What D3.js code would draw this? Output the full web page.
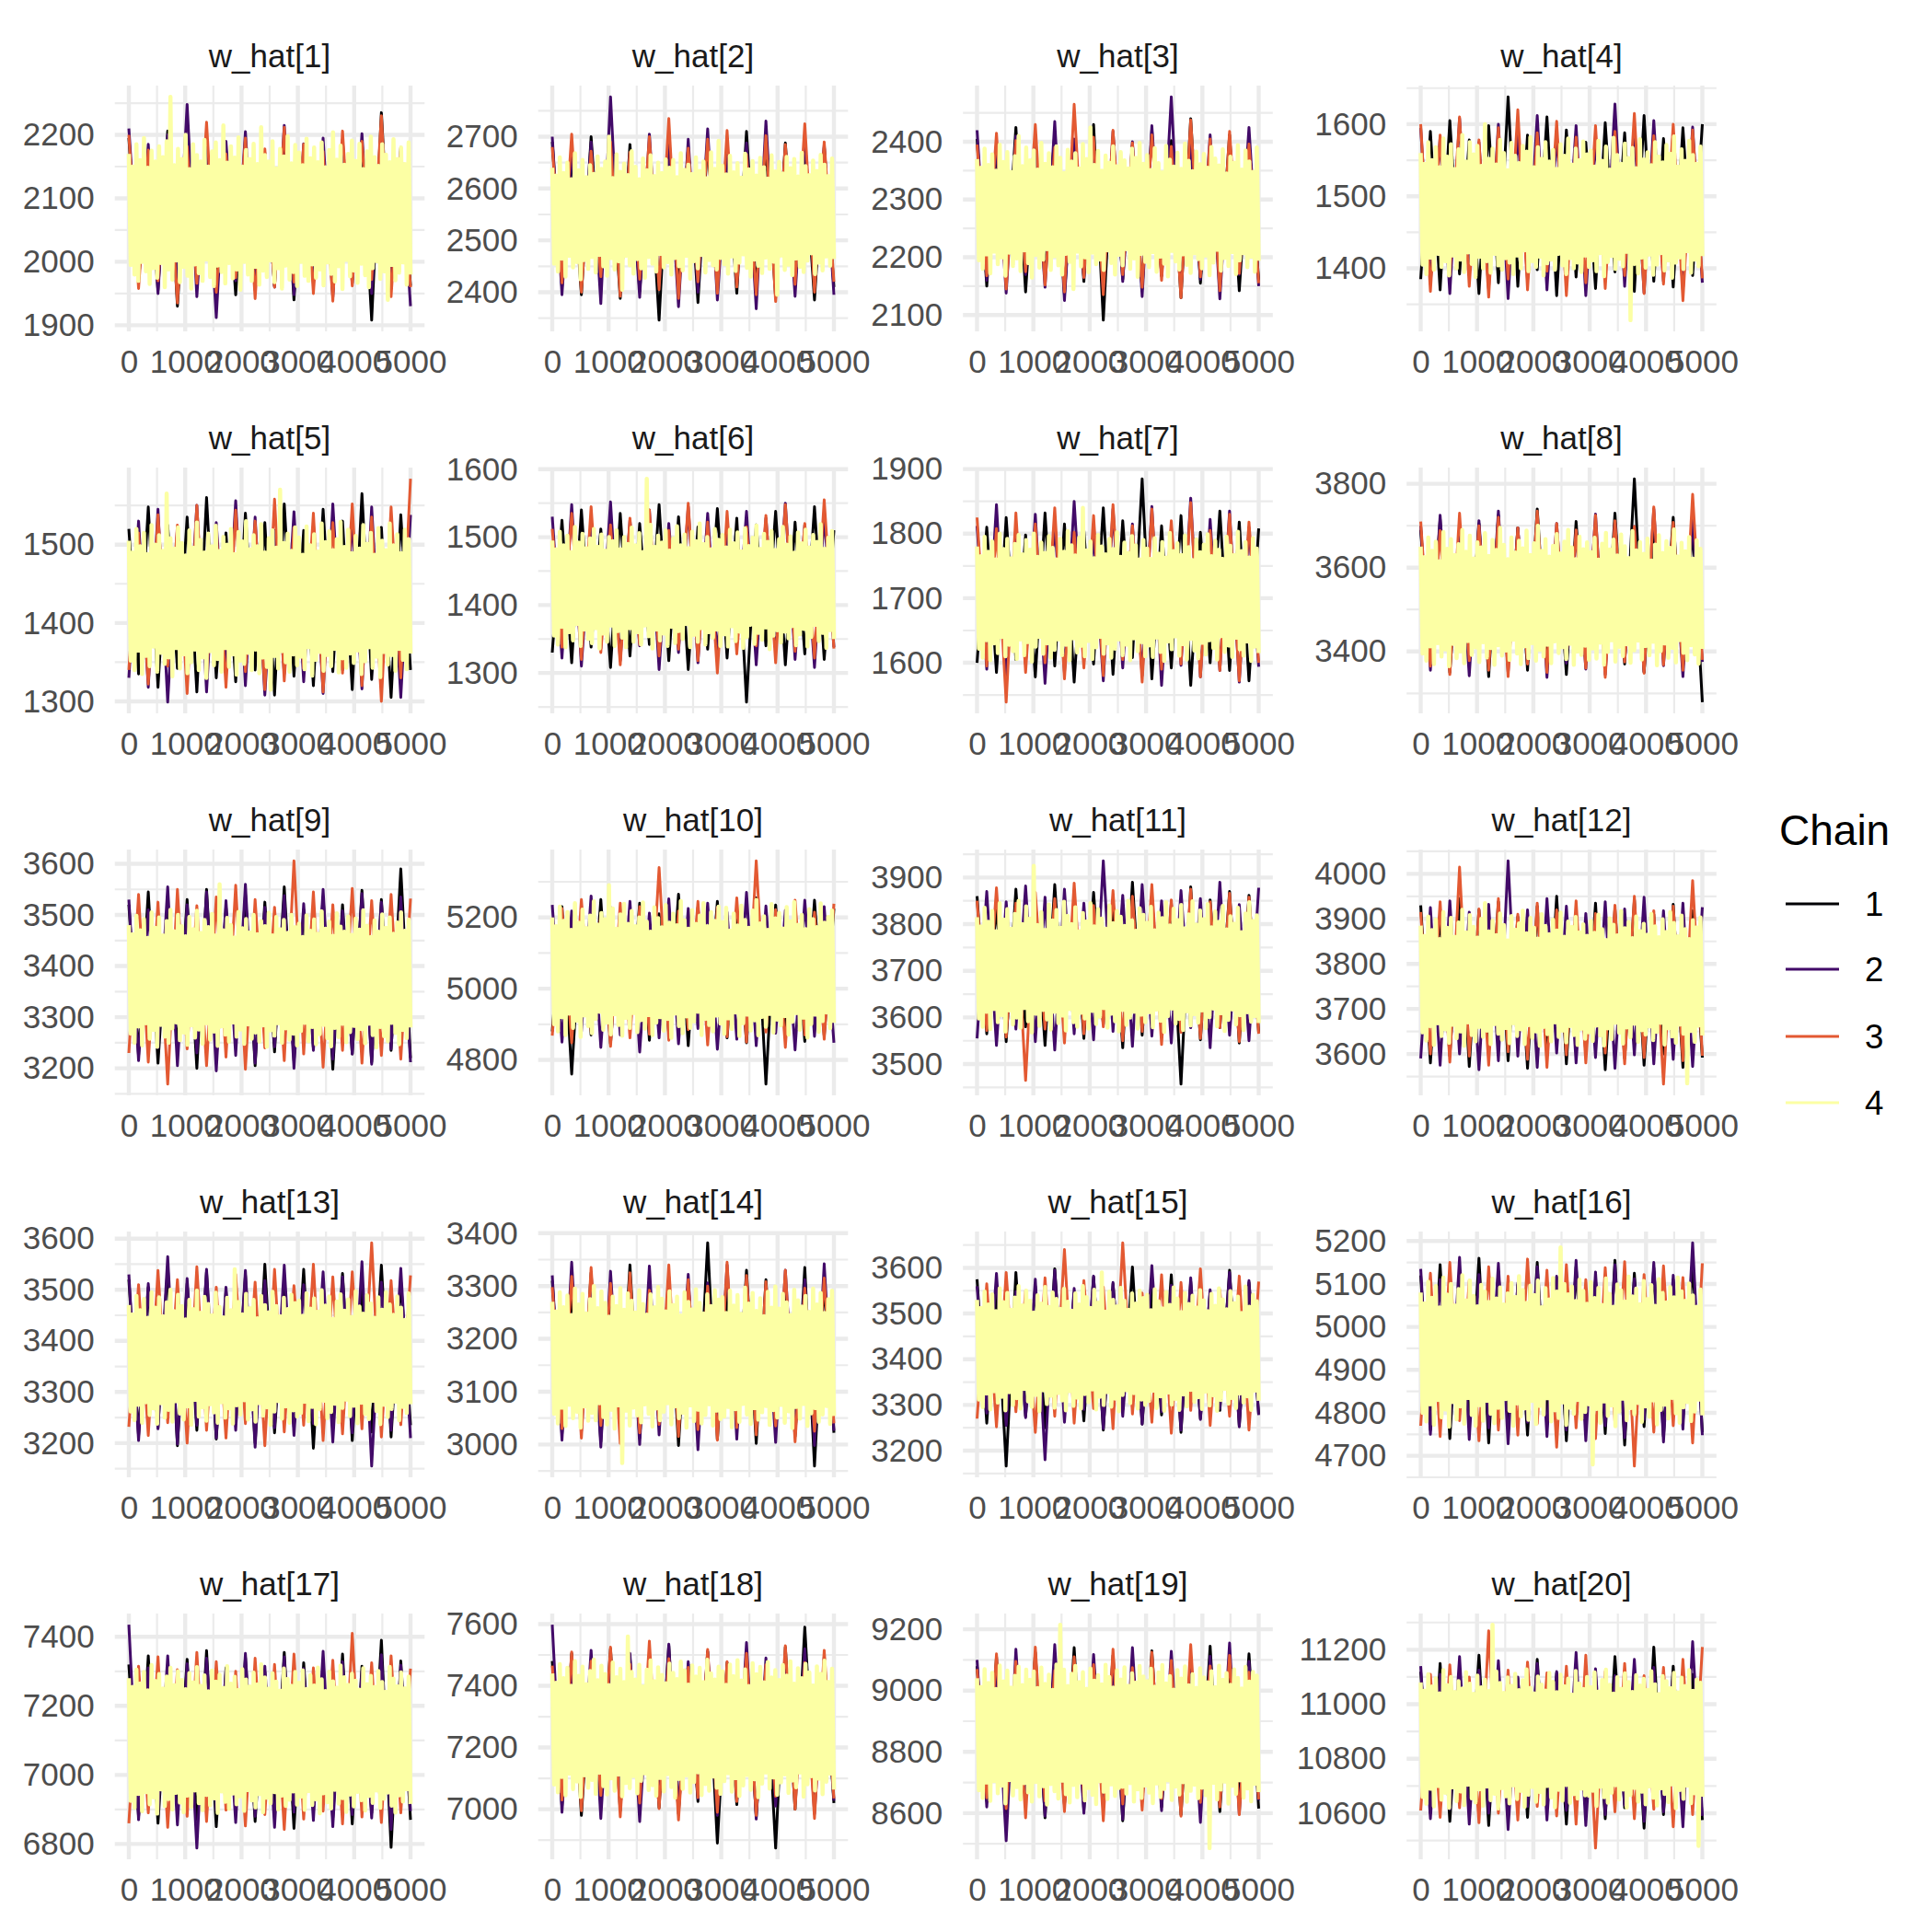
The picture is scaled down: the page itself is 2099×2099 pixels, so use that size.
<!DOCTYPE html>
<html>
<head>
<meta charset="utf-8">
<script src="https://cdn.jsdelivr.net/npm/d3@7"></script>
<style>
html,body{margin:0;padding:0;background:#fff;}
svg{display:block;font-family:"Liberation Sans",Arial,Helvetica,sans-serif;}
</style>
</head>
<body>
<svg id="chart" width="2099" height="2099"></svg>
<script>
// ---------------- data ----------------
const panelTitles = d3.range(1, 21).map(i => `w_hat[${i}]`);
const chainLabels = ["1", "2", "3", "4"];
const xTicks = [0, 1000, 2000, 3000, 4000, 5000];
const xMinor = [500, 1500, 2500, 3500, 4500];
const nIter = 5000;

const yTicks = [
  [1900,2000,2100,2200],[2400,2500,2600,2700],[2100,2200,2300,2400],[1400,1500,1600],
  [1300,1400,1500],[1300,1400,1500,1600],[1600,1700,1800,1900],[3400,3600,3800],
  [3200,3300,3400,3500,3600],[4800,5000,5200],[3500,3600,3700,3800,3900],[3600,3700,3800,3900,4000],
  [3200,3300,3400,3500,3600],[3000,3100,3200,3300,3400],[3200,3300,3400,3500,3600],[4700,4800,4900,5000,5100,5200],
  [6800,7000,7200,7400],[7000,7200,7400,7600],[8600,8800,9000,9200],[10600,10800,11000,11200]
];

// draws of each chain, values at evenly spaced iterations
const chain1 = [
  [2195,1968,2172,1955,2206,1930,2168,1972,2188,1960,2175,1948,2182,1975,2165,1962,2198,1940,2178,1970,2170,1952,2192,1966,2185,1908,2235,1958,2180,1962],
  [2690,2410,2665,2395,2700,2425,2672,2388,2685,2402,2660,2346,2705,2415,2678,2380,2692,2420,2668,2398,2710,2405,2675,2390,2688,2418,2662,2385,2680,2410],
  [2405,2150,2390,2165,2425,2140,2398,2172,2415,2135,2392,2158,2430,2091,2408,2162,2395,2145,2420,2168,2402,2130,2440,2155,2388,2170,2412,2142,2400,2160],
  [1385,1590,1370,1605,1392,1578,1365,1598,1380,1638,1375,1585,1398,1610,1362,1592,1388,1575,1372,1602,1395,1588,1368,1612,1382,1580,1374,1595,1390,1600],
  [1520,1335,1548,1318,1525,1342,1535,1312,1560,1330,1515,1325,1540,1340,1528,1308,1552,1332,1518,1320,1545,1338,1530,1315,1565,1328,1522,1305,1538,1340],
  [1330,1525,1315,1540,1338,1512,1308,1535,1325,1520,1342,1548,1318,1530,1305,1515,1335,1542,1322,1528,1257,1518,1340,1538,1312,1522,1328,1545,1320,1510],
  [1600,1810,1585,1825,1605,1798,1578,1832,1595,1815,1570,1805,1598,1840,1582,1820,1608,1885,1575,1812,1592,1828,1565,1802,1600,1835,1588,1818,1572,1808],
  [3690,3372,3715,3350,3680,3385,3705,3340,3725,3365,3695,3355,3740,3378,3685,3345,3710,3388,3700,3360,3730,3370,3812,3350,3688,3382,3720,3362,3698,3279],
  [3520,3225,3545,3210,3505,3238,3530,3200,3550,3220,3515,3245,3540,3205,3525,3232,3555,3215,3510,3240,3535,3198,3520,3228,3548,3212,3530,3235,3590,3220],
  [4880,5230,4760,5215,4870,5250,4845,5222,4892,5240,4855,5210,4875,5265,4840,5228,4885,5245,4862,5218,4848,5255,4732,5235,4878,5212,4852,5248,4868,5225],
  [3860,3565,3842,3548,3875,3580,3850,3540,3885,3570,3838,3555,3868,3585,3848,3535,3890,3562,3855,3575,3845,3457,3880,3552,3852,3578,3870,3545,3862,3568],
  [3930,3580,3912,3595,3945,3572,3920,3605,3938,3585,3905,3568,3928,3598,3950,3578,3915,3602,3935,3565,3922,3590,3942,3575,3910,3600,3932,3570,3918,3592],
  [3520,3215,3505,3230,3545,3195,3512,3225,3535,3208,3498,3238,3528,3200,3550,3220,3508,3232,3540,3190,3515,3228,3532,3205,3502,3222,3548,3212,3518,3235],
  [3310,3020,3290,3035,3325,3005,3300,3028,3340,3012,3295,3038,3318,2998,3305,3025,3382,3010,3292,3032,3330,3002,3312,3030,3298,3015,3335,2959,3308,3022],
  [3575,3260,3555,3166,3590,3275,3560,3250,3598,3285,3545,3265,3580,3245,3565,3290,3602,3258,3552,3278,3585,3240,3570,3270,3548,3288,3595,3255,3568,3280],
  [5120,4760,5145,4740,5105,4775,5160,4730,5130,4765,5098,4748,5150,4785,5115,4735,5140,4770,5108,4752,5155,4725,5125,4768,5138,4745,5110,4780,5148,4755],
  [7320,6880,7345,6860,7300,6900,7335,6870,7360,6850,7310,6895,7340,6865,7298,6885,7355,6845,7325,6905,7305,6875,7350,6858,7315,6890,7390,6790,7330,6870],
  [7480,7010,7505,6980,7465,7030,7520,6995,7490,7040,7455,7005,7530,6985,7470,7025,7510,6890,7475,7015,7500,6975,7462,6874,7525,7000,7590,7035,7485,7020],
  [9080,8640,9110,8600,9065,8655,9125,8585,9090,8630,9140,8610,9072,8650,9115,8575,9085,8645,9130,8620,9060,8595,9105,8652,9145,8605,9078,8635,9120,8615],
  [11120,10600,11150,10570,11100,10625,11180,10555,11130,10610,11095,10585,11165,10630,11115,10560,11145,10605,11105,10580,11175,10620,11125,10545,11210,10595,11140,10615,11110,10575]
];

const chain2 = [
  [2210,1975,2185,1950,2200,1962,2248,1945,2178,1912,2190,1970,2205,1955,2172,1960,2215,1948,2186,1966,2195,1944,2180,1972,2202,1950,2188,1958,2175,1930],
  [2700,2395,2675,2420,2690,2378,2777,2405,2668,2390,2705,2412,2682,2372,2695,2400,2715,2385,2670,2415,2688,2368,2730,2402,2676,2392,2698,2410,2684,2395],
  [2420,2160,2398,2138,2410,2170,2392,2148,2435,2125,2405,2165,2390,2140,2418,2158,2400,2132,2428,2168,2478,2145,2396,2162,2412,2128,2402,2170,2425,2150],
  [1595,1378,1582,1365,1608,1390,1575,1372,1600,1358,1590,1384,1612,1370,1586,1395,1598,1362,1580,1388,1628,1375,1592,1366,1605,1382,1588,1370,1596,1380],
  [1330,1530,1318,1545,1299,1522,1338,1550,1312,1528,1342,1556,1320,1535,1308,1518,1335,1542,1325,1525,1310,1552,1340,1532,1316,1548,1328,1520,1305,1538],
  [1530,1322,1548,1310,1515,1336,1552,1318,1525,1340,1540,1305,1520,1330,1545,1315,1535,1326,1512,1342,1538,1312,1528,1335,1550,1320,1518,1308,1532,1338],
  [1812,1590,1845,1575,1805,1598,1830,1568,1818,1585,1850,1602,1800,1572,1838,1592,1815,1580,1842,1565,1808,1596,1855,1578,1822,1588,1835,1570,1810,1594],
  [3700,3355,3725,3380,3690,3342,3712,3368,3735,3350,3695,3385,3718,3338,3705,3372,3688,3358,3728,3345,3710,3380,3698,3352,3740,3366,3692,3340,3715,3375],
  [3530,3215,3510,3240,3555,3205,3520,3230,3545,3195,3528,3225,3560,3210,3515,3242,3538,3200,3522,3235,3550,3218,3508,3228,3542,3208,3525,3238,3535,3212],
  [5235,4850,5218,4880,5260,4835,5228,4870,5245,4822,5212,4862,5252,4845,5225,4888,5240,4830,5215,4858,5270,4840,5232,4875,5220,4828,5248,4866,5230,4848],
  [3555,3870,3540,3848,3575,3882,3548,3858,3530,3875,3565,3845,3552,3936,3570,3862,3538,3885,3560,3850,3545,3872,3578,3855,3535,3890,3562,3842,3550,3878],
  [3590,3925,3575,3940,3600,3915,3565,3932,3585,4029,3595,3920,3570,3945,3602,3928,3580,3912,3592,3938,3568,3922,3598,3948,3578,3918,3588,3935,3572,3926],
  [3530,3205,3512,3228,3565,3198,3522,3235,3540,3210,3505,3225,3538,3192,3518,3230,3548,3215,3510,3238,3535,3202,3525,3220,3555,3155,3515,3225,3542,3210],
  [3320,3008,3345,3025,3302,2995,3328,3030,3310,3000,3338,3018,3295,3035,3322,2990,3306,3028,3340,3010,3315,3032,3298,3004,3330,3020,3312,2998,3342,3026],
  [3560,3282,3588,3255,3548,3272,3575,3180,3595,3262,3555,3290,3582,3248,3568,3275,3540,3258,3605,3285,3562,3245,3578,3268,3552,3292,3590,3252,3572,3278],
  [5135,4750,5110,4772,5162,4738,5122,4765,5148,4728,5102,4778,5140,4745,5118,4760,5155,4735,5128,4770,5145,4742,5112,4785,5150,4732,5120,4762,5196,4748],
  [7435,6870,7310,6888,7345,6855,7322,6788,7338,6898,7302,6862,7352,6880,7315,6848,7342,6892,7308,6868,7358,6850,7328,6885,7300,6875,7348,6842,7318,6895],
  [7598,6990,7470,7025,7515,6970,7485,7040,7505,6960,7460,7020,7535,6995,7478,7035,7512,6980,7465,7030,7540,6968,7490,7010,7458,7045,7520,6985,7495,7028],
  [9100,8620,9075,8510,9135,8645,9088,8590,9150,8628,9068,8600,9118,8655,9092,8580,9140,8638,9062,8608,9128,8650,9082,8570,9112,8632,9155,8598,9095,8642],
  [11140,10580,11110,10615,11175,10560,11125,10600,11160,10540,11100,10625,11150,10575,11120,10610,11190,10555,11130,10595,11105,10630,11165,10570,11135,10605,11115,10550,11230,10590]
];

const chain3 = [
  [2200,1958,2176,1970,2190,1935,2182,1966,2220,1952,2170,1975,2195,1942,2178,1960,2212,1968,2185,1950,2174,1938,2206,1962,2190,1972,2230,1945,2180,1960],
  [2680,2418,2705,2400,2672,2430,2690,2392,2670,2425,2700,2405,2735,2388,2678,2420,2695,2398,2712,2410,2666,2395,2702,2382,2685,2415,2725,2400,2690,2420],
  [2395,2168,2415,2145,2402,2175,2430,2152,2390,2140,2465,2165,2408,2135,2420,2170,2398,2148,2412,2160,2392,2130,2438,2166,2405,2142,2418,2172,2396,2155],
  [1600,1368,1585,1392,1610,1375,1578,1360,1595,1385,1620,1370,1588,1396,1604,1362,1582,1380,1598,1372,1590,1390,1615,1365,1584,1378,1600,1355,1592,1386],
  [1340,1515,1322,1538,1345,1525,1310,1550,1332,1520,1318,1544,1338,1530,1315,1558,1326,1522,1342,1540,1312,1528,1336,1552,1320,1535,1300,1548,1330,1584],
  [1512,1338,1535,1320,1545,1330,1518,1312,1528,1342,1540,1325,1510,1335,1550,1318,1522,1300,1538,1328,1515,1340,1532,1315,1548,1332,1520,1322,1555,1336],
  [1825,1595,1808,1539,1832,1585,1815,1600,1840,1575,1802,1592,1828,1580,1845,1605,1812,1570,1838,1590,1820,1598,1848,1578,1805,1588,1830,1572,1818,1600],
  [3710,3365,3688,3345,3730,3378,3700,3355,3720,3340,3695,3370,3735,3350,3705,3382,3690,3360,3725,3338,3712,3375,3698,3348,3745,3368,3708,3355,3775,3380],
  [3230,3540,3212,3525,3169,3550,3238,3518,3205,3535,3222,3558,3198,3530,3240,3515,3215,3606,3228,3545,3202,3520,3235,3552,3210,3528,3225,3540,3218,3532],
  [4868,5225,4848,5250,4880,5212,4838,5240,4862,5230,4872,5340,4855,5218,4885,5245,4842,5228,4865,5255,4850,5359,4878,5222,4835,5248,4870,5215,4858,5238],
  [3850,3572,3878,3558,3845,3465,3868,3575,3855,3545,3888,3565,3840,3580,3872,3550,3860,3570,3885,3542,3852,3568,3875,3555,3848,3578,3866,3548,3858,3565],
  [3915,3600,3938,3582,4015,3595,3922,3575,3945,3605,3910,3588,3935,3570,3920,3598,3940,3580,3912,3602,3930,3578,3950,3592,3918,3533,3928,3585,3985,3596],
  [3232,3510,3215,3538,3240,3520,3200,3545,3225,3505,3210,3530,3238,3515,3195,3540,3222,3508,3235,3550,3205,3525,3218,3535,3228,3592,3212,3518,3236,3528],
  [3298,3030,3318,3012,3335,3036,3305,3002,3325,3022,3292,3038,3340,3015,3312,3028,3300,3008,3345,3032,3320,3018,3308,3035,3330,3005,3296,3025,3315,3040],
  [3270,3565,3252,3590,3285,3550,3240,3578,3275,3640,3260,3572,3292,3558,3248,3655,3280,3545,3262,3585,3238,3568,3288,3598,3255,3552,3275,3582,3245,3570],
  [4770,5125,4745,5150,4782,5108,4735,5140,4760,5118,4748,5158,4775,5132,4720,5145,4765,5110,4740,5138,4778,5152,4676,5122,4755,5142,4770,5115,4730,5148],
  [6860,7315,6890,7342,6848,7305,6880,7355,6865,7328,6898,7300,6852,7338,6885,7320,6842,7350,6872,7310,6895,7332,6858,7410,6878,7325,6862,7345,6890,7308],
  [7465,7030,7510,6995,7480,7045,7525,6975,7470,7020,7545,7002,7488,6965,7460,7038,7518,6990,7478,7025,7505,6980,7468,7042,7530,7000,7475,6970,7515,7035],
  [9070,8650,9120,8615,9095,8585,9142,8640,9065,8605,9110,8655,9085,8575,9135,8630,9075,8610,9125,8648,9098,8590,9150,8635,9080,8620,9115,8595,9060,8645],
  [10610,11110,10585,11145,10620,11100,10565,11270,10600,11125,10575,11155,10625,11115,10590,11140,10560,11180,10472,11120,10605,11150,10580,11105,10615,11135,10550,11165,10595,11210]
];

const chain4 = [
  [2170,1995,2150,1980,2185,1970,2160,2000,2195,1985,2148,1965,2175,1990,2158,1975,2182,1998,2165,1960,2190,1988,2260,1972,2152,2002,2178,1968,2162,1992,
   2200,1978,2146,1958,2185,1996,2168,1982,2158,1970,2192,2004,2150,1976,2174,1962,2188,1994,2160,1984,2215,1966,2156,1998,2182,1974,2164,1988,2196,1956,
   2150,2000,2176,1980,2162,1970,2186,1992,2154,1964,2212,1986,2168,1976,2158,2002,2190,1968,2147,1990,2178,1958,2166,1994,2198,1972,2155,1984,2184,1962,
   2172,2000,2152,1978,2194,1970,2163,1996,2180,1975,2157,1988,2188,1963,2149,1999,2176,1981,2204,1969,2161,1993,2183,1957,2153,2003,2170,1977,2191,1986,
   2159,1967,2186,1997,2146,1979,2174,1960,2197,1990,2165,2001,2151,1973,2185,1985,2169,1940,2157,1995,2193,1971,2162,1983,2180,1999,2154,1964,2188,1980],
  [2640,2455,2625,2440,2660,2465,2630,2430,2650,2470,2618,2448,2668,2458,2635,2425,2655,2462,2622,2445,2645,2468,2628,2438,2662,2472,2638,2450,2652,2432,
   2700,2466,2620,2444,2666,2460,2632,2405,2648,2470,2626,2452,2672,2436,2642,2464,2618,2446,2658,2428,2635,2468,2664,2455,2624,2440,2650,2474,2630,2448,
   2656,2458,2640,2434,2655,2466,2622,2450,2668,2442,2636,2470,2646,2426,2628,2460,2660,2446,2634,2472,2652,2438,2620,2462,2670,2452,2638,2444,2692,2466,
   2644,2454,2627,2436,2663,2469,2631,2441,2649,2457,2621,2473,2667,2447,2637,2430,2653,2463,2625,2451,2659,2437,2641,2467,2619,2445,2664,2459,2633,2395,
   2651,2471,2629,2443,2661,2453,2639,2433,2657,2465,2623,2449,2669,2439,2643,2461,2626,2475,2654,2435,2634,2457,2665,2442,2646,2469,2624,2451,2658,2464],
  [2370,2195,2355,2180,2388,2205,2360,2172,2378,2210,2350,2188,2395,2200,2365,2168,2382,2208,2348,2185,2375,2198,2410,2176,2358,2212,2390,2190,2368,2165,
   2385,2204,2352,2182,2398,2196,2362,2214,2380,2178,2356,2202,2392,2186,2372,2170,2346,2206,2386,2192,2366,2145,2380,2210,2354,2184,2396,2200,2370,2174,
   2425,2208,2360,2188,2384,2196,2350,2178,2376,2212,2364,2190,2392,2170,2358,2204,2382,2186,2368,2214,2354,2180,2388,2198,2372,2166,2398,2206,2362,2192,
   2377,2183,2351,2209,2389,2175,2363,2201,2347,2189,2393,2167,2369,2211,2357,2193,2381,2179,2353,2205,2397,2187,2367,2173,2349,2207,2383,2197,2361,2181,
   2379,2203,2355,2169,2391,2191,2371,2213,2359,2177,2387,2199,2345,2185,2374,2209,2364,2171,2394,2195,2352,2207,2385,2183,2366,2201,2348,2175,2390,2194],
  [1560,1405,1545,1392,1575,1415,1550,1398,1568,1420,1540,1402,1580,1410,1555,1390,1572,1418,1538,1400,1565,1412,1585,1395,1548,1422,1575,1406,1558,1388,
   1570,1416,1542,1400,1600,1410,1552,1394,1566,1420,1544,1404,1578,1398,1560,1414,1536,1408,1574,1392,1556,1418,1546,1400,1570,1425,1562,1396,1582,1410,
   1540,1402,1568,1416,1552,1390,1575,1407,1548,1412,1564,1398,1538,1420,1572,1404,1556,1392,1580,1414,1544,1400,1566,1408,1550,1395,1576,1418,1558,1402,
   1563,1411,1541,1396,1577,1421,1549,1389,1569,1409,1537,1417,1581,1399,1557,1413,1545,1403,1573,1423,1553,1328,1567,1406,1539,1393,1579,1415,1551,1401,
   1561,1419,1543,1391,1575,1405,1555,1421,1547,1397,1571,1411,1559,1387,1583,1408,1541,1415,1565,1399,1549,1424,1577,1394,1557,1412,1545,1403,1569,1417],
  [1505,1352,1490,1340,1520,1365,1498,1335,1515,1358,1488,1345,1525,1370,1500,1338,1512,1362,1492,1348,1565,1356,1508,1332,1495,1368,1522,1342,1502,1360,
   1486,1336,1518,1350,1496,1366,1528,1340,1506,1356,1490,1330,1514,1364,1498,1346,1524,1354,1492,1338,1510,1368,1500,1344,1520,1360,1488,1334,1516,1352,
   1504,1348,1530,1362,1494,1340,1512,1366,1498,1336,1526,1356,1490,1344,1508,1315,1518,1358,1496,1342,1570,1364,1502,1350,1514,1338,1492,1360,1522,1346,
   1509,1357,1487,1341,1523,1369,1499,1333,1513,1353,1491,1363,1527,1339,1503,1359,1517,1345,1493,1367,1507,1337,1529,1355,1497,1343,1519,1361,1489,1349,
   1511,1365,1495,1335,1525,1351,1501,1369,1515,1343,1487,1357,1521,1331,1505,1363,1493,1347,1527,1359,1499,1339,1513,1367,1489,1353,1519,1341,1507,1361],
  [1495,1355,1482,1342,1508,1368,1488,1338,1502,1360,1478,1348,1515,1372,1492,1340,1505,1364,1484,1350,1498,1344,1512,1366,1486,1336,1504,1358,1480,1346,
   1500,1370,1494,1340,1510,1362,1482,1352,1500,1338,1490,1366,1514,1346,1488,1360,1506,1342,1478,1370,1586,1354,1518,1336,1486,1364,1502,1348,1492,1358,
   1510,1340,1480,1368,1498,1344,1516,1362,1488,1350,1504,1372,1484,1338,1508,1356,1494,1346,1520,1366,1490,1342,1500,1360,1482,1352,1512,1364,1496,1340,
   1503,1357,1485,1339,1511,1369,1491,1347,1507,1361,1479,1337,1513,1353,1487,1371,1499,1343,1517,1359,1483,1349,1505,1367,1493,1335,1509,1355,1481,1363,
   1497,1345,1515,1361,1489,1351,1501,1369,1477,1341,1507,1357,1491,1365,1511,1339,1485,1353,1503,1371,1493,1347,1519,1359,1483,1337,1499,1363,1509,1350],
  [1780,1622,1765,1608,1795,1635,1772,1604,1788,1630,1760,1615,1800,1640,1776,1610,1792,1628,1762,1618,1784,1606,1798,1636,1768,1612,1790,1632,1775,1602,
   1800,1625,1764,1640,1786,1614,1770,1630,1796,1608,1778,1620,1760,1636,1792,1612,1772,1628,1804,1604,1782,1638,1766,1616,1794,1626,1840,1610,1774,1634,
   1788,1606,1762,1624,1798,1640,1780,1614,1768,1630,1792,1608,1776,1622,1802,1636,1764,1612,1786,1628,1770,1604,1796,1638,1782,1618,1760,1632,1790,1610,
   1777,1627,1761,1609,1793,1639,1769,1617,1787,1603,1763,1633,1801,1621,1773,1641,1785,1611,1767,1629,1797,1605,1779,1637,1759,1619,1791,1607,1771,1631,
   1783,1613,1799,1635,1765,1623,1789,1605,1775,1641,1761,1617,1795,1627,1781,1609,1767,1639,1803,1621,1773,1611,1787,1633,1763,1603,1793,1625,1777,1615],
  [3650,3395,3625,3378,3672,3412,3640,3370,3662,3420,3615,3388,3685,3405,3645,3365,3668,3418,3630,3384,3656,3400,3690,3372,3638,3425,3676,3392,3622,3410,
   3660,3375,3648,3422,3682,3386,3628,3408,3666,3368,3642,3415,3695,3390,3654,3402,3620,3380,3672,3428,3636,3395,3664,3370,3646,3412,3688,3384,3630,3420,
   3658,3378,3700,3404,3640,3388,3668,3416,3626,3372,3652,3424,3680,3396,3634,3410,3662,3382,3690,3418,3648,3368,3620,3400,3674,3392,3644,3414,3660,3380,
   3637,3407,3671,3383,3619,3421,3657,3369,3683,3399,3643,3427,3667,3376,3629,3411,3679,3389,3651,3417,3623,3373,3687,3403,3641,3426,3661,3381,3633,3413,
   3669,3391,3617,3423,3655,3367,3677,3401,3635,3419,3663,3385,3647,3409,3691,3374,3627,3427,3659,3397,3639,3379,3673,3415,3621,3393,3665,3371,3645,3406],
  [3480,3268,3462,3250,3498,3282,3470,3245,3492,3288,3455,3258,3505,3275,3475,3242,3495,3285,3460,3262,3488,3250,3510,3278,3468,3290,3500,3255,3478,3270,
   3458,3246,3496,3284,3472,3260,3508,3276,3465,3248,3490,3288,3476,3256,3502,3272,3460,3244,3560,3282,3470,3266,3494,3252,3480,3290,3456,3262,3506,3276,
   3474,3248,3492,3286,3466,3258,3500,3270,3462,3252,3488,3284,3478,3242,3504,3274,3460,3264,3496,3288,3472,3250,3490,3278,3465,3256,3500,3268,3476,3245,
   3483,3273,3457,3289,3499,3253,3469,3281,3491,3247,3463,3267,3507,3285,3473,3259,3487,3243,3459,3279,3503,3261,3477,3287,3467,3251,3497,3271,3461,3283,
   3493,3257,3471,3277,3509,3249,3479,3287,3457,3265,3489,3241,3467,3281,3501,3263,3475,3253,3495,3289,3463,3269,3485,3247,3505,3275,3469,3259,3491,3280],
  [5200,4900,5175,4880,5230,4920,5190,4870,5215,4930,5165,4890,5240,4910,5185,4865,5222,4925,5170,4895,5205,4875,5245,4915,5180,4935,5212,4885,5195,4905,
   5290,4872,5225,4928,5168,4898,5208,4868,5238,4918,5182,4890,5218,4932,5175,4878,5200,4912,5242,4888,5188,4926,5160,4870,5228,4905,5198,4920,5172,4882,
   5235,4915,5185,4862,5210,4930,5178,4895,5246,4875,5192,4922,5168,4890,5220,4908,5182,4935,5205,4870,5240,4915,5175,4898,5215,4880,5190,4925,5230,4902,
   5187,4873,5227,4917,5163,4887,5211,4933,5177,4867,5233,4903,5193,4927,5171,4883,5219,4911,5249,4869,5183,4921,5203,4893,5165,4929,5237,4877,5197,4913,
   5213,4897,5169,4923,5229,4871,5189,4907,5243,4931,5179,4885,5207,4919,5167,4863,5223,4901,5195,4927,5173,4879,5239,4909,5185,4933,5201,4889,5219,4904],
  [3815,3598,3795,3580,3835,3612,3805,3575,3828,3618,3785,3590,3845,3605,3810,3570,3832,3615,3790,3585,3822,3600,3850,3578,3800,3620,3838,3592,3812,3568,
   3925,3608,3798,3582,3826,3616,3788,3596,3842,3574,3808,3612,3830,3588,3792,3604,3848,3572,3818,3618,3800,3590,3836,3580,3785,3610,3824,3598,3806,3576,
   3845,3614,3795,3586,3832,3602,3812,3620,3790,3578,3840,3608,3802,3592,3828,3570,3816,3616,3796,3584,3850,3600,3808,3612,3786,3576,3834,3606,3820,3590,
   3803,3611,3837,3579,3787,3617,3825,3593,3813,3569,3847,3603,3797,3619,3833,3587,3809,3597,3841,3573,3791,3613,3821,3583,3849,3607,3799,3589,3829,3615,
   3811,3577,3843,3601,3793,3619,3827,3581,3805,3609,3839,3571,3789,3595,3817,3617,3801,3585,3835,3605,3783,3573,3823,3611,3847,3591,3807,3603,3819,3588],
  [3885,3648,3862,3630,3905,3662,3875,3620,3898,3668,3855,3640,3915,3655,3880,3625,3902,3665,3860,3635,3892,3650,3920,3618,3870,3670,3908,3642,3882,3628,
   3858,3660,3900,3638,3935,3652,3872,3622,3896,3666,3864,3645,3912,3632,3886,3658,3852,3624,3906,3668,3876,3640,3890,3655,3918,3622,3868,3664,3902,3636,
   3880,3650,3856,3618,3910,3660,3884,3644,3866,3628,3898,3670,3874,3638,3914,3652,3860,3626,3894,3662,3882,3642,3904,3620,3870,3656,3888,3634,3862,3648,
   3895,3629,3869,3663,3909,3641,3877,3619,3853,3657,3901,3633,3887,3669,3863,3647,3917,3623,3879,3659,3893,3637,3857,3667,3905,3627,3873,3653,3889,3643,
   3865,3661,3911,3631,3883,3649,3859,3669,3899,3621,3871,3657,3915,3639,3891,3625,3861,3665,3907,3645,3877,3535,3855,3651,3897,3627,3881,3663,3903,3641],
  [3470,3262,3452,3245,3488,3275,3460,3240,3482,3280,3445,3255,3495,3268,3465,3238,3485,3278,3448,3250,3475,3265,3500,3242,3458,3282,3490,3258,3468,3246,
   3442,3272,3480,3236,3462,3285,3498,3252,3455,3270,3486,3244,3472,3276,3450,3260,3494,3240,3466,3280,3446,3250,3484,3268,3460,3238,3540,3274,3476,3256,
   3452,3284,3492,3246,3464,3266,3480,3242,3444,3278,3488,3254,3470,3270,3456,3236,3496,3262,3468,3282,3448,3248,3484,3272,3462,3240,3490,3264,3474,3252,
   3479,3259,3449,3281,3493,3243,3463,3271,3483,3237,3457,3267,3499,3283,3469,3249,3487,3261,3443,3277,3477,3241,3491,3269,3459,3285,3481,3253,3447,3273,
   3497,3239,3467,3279,3453,3257,3489,3247,3473,3283,3445,3263,3485,3237,3461,3275,3495,3251,3471,3267,3451,3281,3487,3245,3465,3271,3441,3259,3493,3276],
  [3270,3058,3252,3040,3288,3070,3260,3035,3282,3075,3245,3050,3295,3062,3265,3032,3285,3072,3248,3045,3275,3060,3300,3046,3258,3078,3290,3052,3268,3038,
   3242,3066,3280,3030,3262,3074,3296,2965,3255,3064,3286,3036,3272,3070,3250,3055,3292,3042,3266,3076,3246,3058,3284,3034,3260,3068,3298,3046,3276,3062,
   3252,3078,3290,3038,3264,3072,3280,3050,3244,3060,3288,3032,3270,3074,3256,3044,3294,3066,3268,3040,3248,3056,3284,3076,3262,3036,3292,3064,3274,3048,
   3279,3053,3249,3071,3291,3033,3263,3067,3283,3043,3247,3077,3297,3057,3267,3039,3287,3069,3253,3047,3277,3061,3243,3073,3289,3037,3259,3065,3299,3051,
   3257,3075,3285,3041,3269,3063,3245,3031,3293,3071,3273,3049,3261,3077,3281,3035,3251,3059,3295,3069,3265,3043,3287,3057,3249,3073,3275,3039,3291,3054],
  [3530,3312,3512,3295,3548,3325,3520,3290,3542,3330,3505,3305,3555,3318,3525,3288,3545,3328,3508,3300,3535,3315,3560,3292,3518,3335,3550,3308,3528,3296,
   3502,3322,3540,3286,3522,3332,3558,3302,3515,3320,3546,3294,3532,3326,3510,3310,3554,3288,3526,3330,3506,3298,3544,3316,3520,3292,3560,3324,3536,3306,
   3512,3334,3552,3290,3524,3318,3590,3300,3504,3328,3548,3296,3530,3314,3516,3286,3556,3322,3528,3332,3508,3304,3544,3326,3522,3292,3550,3312,3534,3300,
   3541,3309,3507,3331,3553,3293,3527,3319,3511,3287,3547,3327,3519,3301,3557,3313,3533,3289,3503,3323,3545,3297,3521,3333,3539,3307,3513,3317,3551,3291,
   3529,3329,3505,3299,3543,3321,3517,3287,3555,3311,3531,3335,3509,3303,3549,3315,3523,3293,3537,3325,3501,3305,3559,3319,3515,3289,3541,3331,3527,3309],
  [5080,4800,5055,4780,5105,4820,5068,4772,5095,4830,5045,4790,5115,4808,5075,4768,5100,4825,5050,4785,5088,4815,5120,4775,5062,4835,5108,4795,5072,4770,
   5048,4818,5098,4782,5082,4828,5058,4798,5112,4776,5066,4812,5092,4788,5052,4832,5078,4805,5102,4770,5070,4822,5118,4792,5086,4810,5056,4784,5096,4828,
   5074,4774,5108,4816,5046,4796,5090,4834,5064,4780,5114,4806,5082,4788,5185,4824,5100,4772,5076,4812,5094,4798,5060,4830,5110,4786,5084,4802,5054,4820,
   5104,4680,5067,4809,5091,4777,5051,4827,5113,4793,5077,4817,5047,4769,5099,4803,5085,4833,5059,4783,5117,4811,5071,4797,5089,4823,5053,4779,5107,4815,
   5065,4791,5097,4829,5049,4773,5111,4807,5079,4819,5057,4787,5093,4835,5069,4799,5115,4777,5083,4813,5061,4825,5101,4781,5073,4803,5047,4831,5087,4794],
  [7280,6925,7255,6905,7305,6945,7265,6895,7298,6950,7245,6915,7318,6935,7272,6888,7292,6958,7250,6910,7285,6930,7310,6900,7260,6948,7300,6920,7275,6892,
   7248,6940,7295,6908,7268,6955,7312,6918,7258,6898,7288,6942,7242,6912,7302,6932,7270,6890,7290,6952,7252,6922,7315,6902,7264,6946,7284,6915,7246,6938,
   7306,6896,7276,6956,7256,6926,7296,6906,7262,6944,7320,6892,7282,6934,7250,6918,7294,6950,7270,6900,7244,6940,7308,6910,7278,6928,7258,6952,7298,6914,
   7267,6937,7303,6899,7249,6953,7289,6913,7259,6929,7311,6889,7277,6947,7243,6921,7299,6903,7271,6957,7253,6917,7317,6933,7283,6893,7261,6943,7293,6909,
   7273,6951,7247,6927,7309,6897,7263,6939,7287,6919,7255,6955,7301,6905,7269,6931,7241,6949,7313,6911,7279,6891,7257,6941,7297,6923,7251,6959,7285,6916],
  [7440,7080,7410,7055,7470,7105,7425,7045,7458,7115,7400,7065,7480,7090,7432,7040,7462,7110,7405,7070,7448,7095,7485,7050,7418,7118,7465,7075,7438,7048,
   7402,7100,7475,7060,7428,7112,7455,7042,7412,7085,7560,7068,7445,7108,7420,7052,7468,7092,7398,7116,7452,7062,7482,7078,7415,7044,7460,7102,7435,7058,
   7408,7114,7472,7072,7442,7038,7422,7098,7478,7066,7450,7110,7404,7054,7466,7088,7430,7120,7458,7046,7412,7082,7484,7060,7440,7106,7420,7070,7462,7050,
   7447,7091,7403,7117,7469,7057,7431,7101,7483,7043,7417,7077,7453,7111,7399,7063,7473,7097,7437,7039,7461,7083,7411,7119,7477,7067,7427,7103,7451,7047,
   7419,7087,7467,7113,7433,7053,7479,7093,7407,7071,7457,7119,7425,7041,7471,7081,7443,7107,7401,7061,7463,7099,7439,7049,7481,7089,7413,7115,7455,7064],
  [9040,8675,9012,8650,9070,8700,9025,8640,9058,8705,9005,8665,9082,8690,9030,8632,9065,8708,9010,8658,9048,8685,9078,8645,9018,8698,9068,8668,9035,8638,
   9062,8702,9008,8655,9075,8688,9022,8628,9052,8695,9002,8672,9085,8648,9215,8706,9068,8662,9015,8635,9055,8692,9080,8652,9028,8700,9060,8642,9006,8682,
   9072,8660,9032,8630,9050,8704,9020,8670,9084,8646,9044,8694,9010,8656,9066,8682,9036,8686,9076,8664,9016,8698,9056,8638,9026,8678,9080,8650,9046,8690,
   9031,8667,9071,8633,9013,8697,9059,8653,9083,8679,9023,8707,9047,8643,9003,8687,9067,8661,9039,8701,9079,8637,9017,8673,9053,8693,9009,8649,9073,8683,
   9043,8659,9027,8486,9063,8699,9011,8645,9081,8677,9035,8703,9057,8631,9019,8689,9069,8663,9041,8707,9007,8651,9077,8681,9029,8639,9061,8695,9049,8669],
  [11080,10660,11050,10635,11110,10690,11065,10625,11095,10700,11040,10650,11125,10675,11070,10620,11100,10695,11045,10645,11085,10680,11058,10630,11118,10705,11075,10655,11038,10640,
   11105,10688,11062,10628,11090,10698,11048,10648,11292,10672,11120,10618,11078,10692,11042,10662,11098,10636,11068,10702,11112,10652,11052,10682,11088,10624,11128,10668,11060,10696,
   11040,10642,11102,10678,11072,10632,11050,10700,11115,10658,11082,10622,11044,10686,11108,10646,11066,10704,11094,10638,11036,10670,11122,10654,11076,10690,11056,10666,11100,10664,
   11063,10683,11117,10627,11047,10697,11089,10659,11127,10639,11071,10675,11039,10703,11099,10651,11057,10687,11113,10621,11081,10667,11045,10693,11107,10643,11069,10679,11093,10633,
   11053,10699,11121,10657,11073,10629,11037,10691,11103,10671,11085,10641,11059,10706,11115,10619,11043,10685,11097,10653,11067,10701,11125,10637,11049,10673,11091,10480,11079,10661]
];

// ---------------- style / layout ----------------
const chainColors = ["#000004", "#420A68", "#E35932", "#FCFFA4"];
const chainWidths = [3, 3, 3, 4.5];
const colLeft = [124.7, 584.7, 1046.2, 1528.2];
const rowTop = [93, 508, 923, 1338, 1753];
const panelW = 336.6, panelH = 267;
const gridColor = "#EBEBEB";
const fontFamily = '"Liberation Sans", Arial, Helvetica, sans-serif';

const svg = d3.select("#chart");
svg.append("rect").attr("width", 2099).attr("height", 2099).attr("fill", "#fff");

const chains = [chain1, chain2, chain3, chain4];

panelTitles.forEach((title, p) => {
  const col = p % 4, row = Math.floor(p / 4);
  const left = colLeft[col], top = rowTop[row];
  const g = svg.append("g");

  const x = d3.scaleLinear().domain([-0.05 * nIter, 1.05 * nIter]).range([left, left + panelW]);
  const all = chains.flatMap(c => c[p]);
  const ext = d3.extent(all);
  const pad = (ext[1] - ext[0]) * 0.05;
  const y = d3.scaleLinear().domain([ext[0] - pad, ext[1] + pad]).range([top + panelH, top]);

  const ticks = yTicks[p];
  const step = ticks[1] - ticks[0];
  const minorY = d3.range(ticks[0] - step / 2, ticks[ticks.length - 1] + step, step)
    .filter(v => v >= y.domain()[0] && v <= y.domain()[1]);

  // grid
  const grid = g.append("g");
  grid.selectAll("line.hmin").data(minorY).join("line")
    .attr("x1", left).attr("x2", left + panelW).attr("y1", d => y(d)).attr("y2", d => y(d))
    .attr("stroke", gridColor).attr("stroke-width", 2.2);
  grid.selectAll("line.vmin").data(xMinor).join("line")
    .attr("x1", d => x(d)).attr("x2", d => x(d)).attr("y1", top).attr("y2", top + panelH)
    .attr("stroke", gridColor).attr("stroke-width", 2.2);
  grid.selectAll("line.hmaj").data(ticks).join("line")
    .attr("x1", left).attr("x2", left + panelW).attr("y1", d => y(d)).attr("y2", d => y(d))
    .attr("stroke", gridColor).attr("stroke-width", 4.4);
  grid.selectAll("line.vmaj").data(xTicks).join("line")
    .attr("x1", d => x(d)).attr("x2", d => x(d)).attr("y1", top).attr("y2", top + panelH)
    .attr("stroke", gridColor).attr("stroke-width", 4.4);

  // traces (chain 1 drawn first, chain 4 on top)
  chains.forEach((c, ci) => {
    const vals = c[p];
    const n = vals.length;
    const line = d3.line()
      .x((d, i) => x(i * nIter / (n - 1)))
      .y(d => y(d));
    g.append("path").datum(vals)
      .attr("d", line)
      .attr("fill", "none")
      .attr("stroke", chainColors[ci])
      .attr("stroke-width", chainWidths[ci])
      .attr("stroke-linejoin", "round");
  });

  // axes
  const ya = g.append("g").attr("transform", `translate(${left},0)`)
    .call(d3.axisLeft(y).tickValues(ticks).tickSize(0).tickPadding(22).tickFormat(d3.format("d")));
  ya.select(".domain").remove();
  ya.selectAll("text").attr("font-size", 35).attr("font-family", fontFamily).attr("fill", "#4D4D4D");

  const xa = g.append("g").attr("transform", `translate(0,${top + panelH})`)
    .call(d3.axisBottom(x).tickValues(xTicks).tickSize(0).tickPadding(20).tickFormat(d3.format("d")));
  xa.select(".domain").remove();
  xa.selectAll("text").attr("font-size", 35).attr("font-family", fontFamily).attr("fill", "#4D4D4D");

  // strip title
  g.append("text")
    .attr("x", left + panelW / 2).attr("y", top - 19.7)
    .attr("text-anchor", "middle")
    .attr("font-size", 35).attr("font-family", fontFamily).attr("fill", "#1A1A1A")
    .text(title);
});

// legend
const lg = svg.append("g");
lg.append("text").attr("x", 1933).attr("y", 918)
  .attr("font-size", 46).attr("font-family", fontFamily).attr("fill", "#000")
  .text("Chain");
const keyY = [982, 1053, 1126, 1198];
chainLabels.forEach((lab, i) => {
  lg.append("line").attr("x1", 1940).attr("x2", 1998).attr("y1", keyY[i]).attr("y2", keyY[i])
    .attr("stroke", chainColors[i]).attr("stroke-width", 3);
  lg.append("text").attr("x", 2026).attr("y", keyY[i]).attr("dy", "0.35em")
    .attr("font-size", 36.7).attr("font-family", fontFamily).attr("fill", "#000")
    .text(lab);
});
</script>
</body>
</html>
